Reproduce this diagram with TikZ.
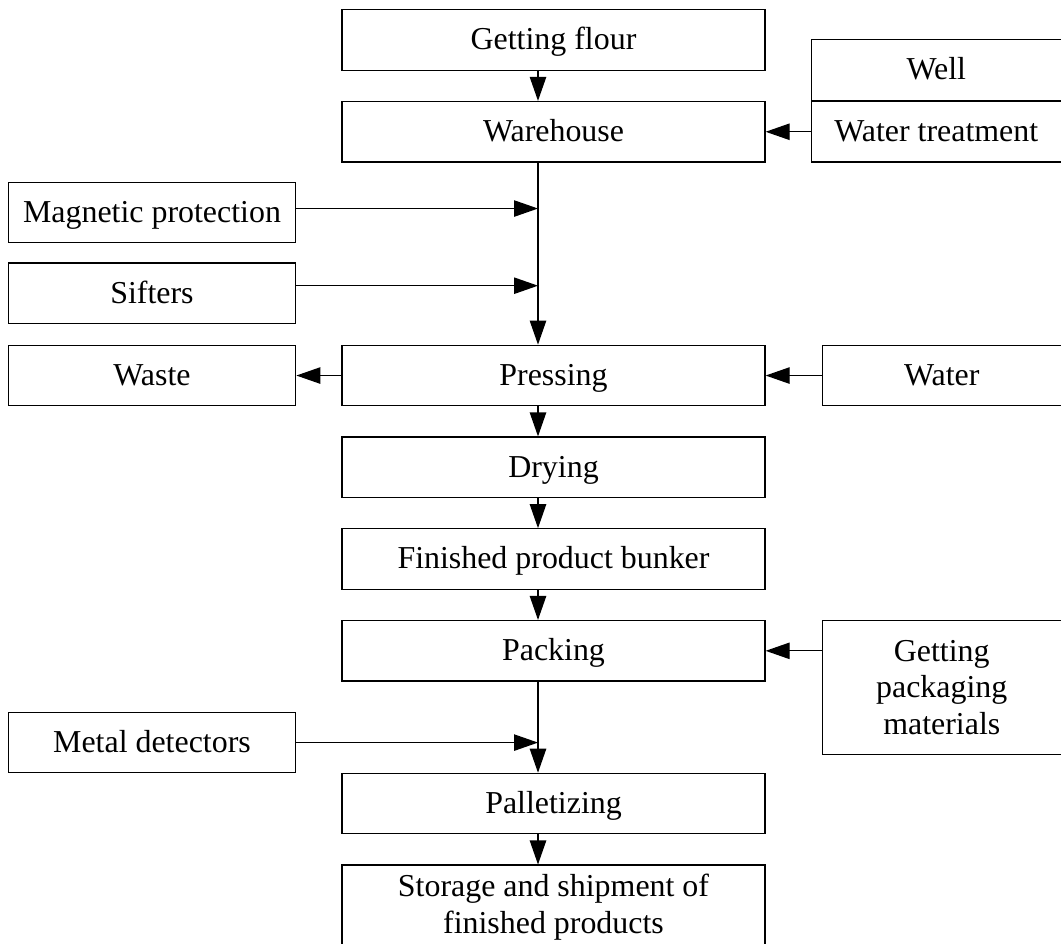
\documentclass[tikz,border=0pt]{standalone}
\usepackage{fontspec}
\setmainfont{Liberation Serif}
\usepackage{tikz}
\usetikzlibrary{arrows.meta, positioning}

\begin{document}
\begin{tikzpicture}[
  node distance=7.5mm,
  line width=0.9pt,
  box/.style={
    rectangle,
    draw,
    align=center,
    font=\fontsize{22.7}{26.3}\selectfont,
    minimum height=1.5125cm,
    inner sep=0pt,
  },
  stage/.style={
    box,
    minimum width=10.575cm,
    text height=16pt,
    text depth=2.14pt,
  },
  side/.style={
    stage,
    minimum width=7.1875cm,
  },
  source/.style={
    stage,
    minimum width=5.975cm,
  },
  arrow/.style={-{Triangle[length=6mm, width=4.1mm]}}
]
\useasboundingbox (0,0) rectangle (26.525,-23.575);

% ===== MAIN LINE =====
\node[stage] (flour) at (13.8375,-1.0) {Getting flour};
\node[stage, below=of flour] (wareh) {Warehouse};
\node[stage, below=45.5mm of wareh] (press) {Pressing};
\node[stage, below=of press] (dry) {Drying};
\node[stage, below=of dry] (bunker) {Finished product bunker};
\node[stage, below=of bunker] (pack) {Packing};
\node[stage, below=22.75mm of pack] (pallet) {Palletizing};
\node[box, below=of pallet, minimum width=10.575cm, minimum height=2.125cm] (store) {
  Storage and shipment of\\
  finished products
};

% line the arrows run down
\coordinate (spine) at ([xshift=-3.875mm]flour.south);

% ===== LEFT SIDE =====
\node[side, below left=4.75mm and 11.25mm of wareh.south west] (magnet) {Magnetic protection};
\node[side, below=4.75mm of magnet] (sift) {Sifters};
\node[side, left=11.25mm of press] (waste) {Waste};
\node[side, below left=7.5mm and 11.25mm of pack.south west] (metal) {Metal detectors};

% ===== RIGHT SIDE =====
\node[source, right=11.25mm of wareh, minimum width=6.25cm] (treat) {Water treatment};
\node[source, above=0mm of treat, minimum width=6.25cm] (well) {Well};
\node[source, right=14mm of press] (water) {Water};
\node[box, below right=0mm and 14mm of pack.north east, minimum width=5.975cm, minimum height=3.35cm] (pkgmat) {
  Getting\\
  packaging\\
  materials
};

% ===== ARROWS =====
\draw[arrow] (flour.south -| spine) -- (wareh.north -| spine);
\draw[arrow] (wareh.south -| spine) -- (press.north -| spine);
\draw[arrow] (press.south -| spine) -- (dry.north -| spine);
\draw[arrow] (dry.south -| spine) -- (bunker.north -| spine);
\draw[arrow] (bunker.south -| spine) -- (pack.north -| spine);
\draw[arrow] (pack.south -| spine) -- (pallet.north -| spine);
\draw[arrow] (pallet.south -| spine) -- (store.north -| spine);

\draw[arrow] ([yshift=1mm]magnet.east) -- ([yshift=1mm]magnet.east -| spine);
\draw[arrow] ([yshift=1.9mm]sift.east) -- ([yshift=1.9mm]sift.east -| spine);
\draw[arrow] (metal.east) -- (metal.east -| spine);
\draw[arrow] (press.west) -- (waste.east);

\draw[arrow] (treat.west) -- (wareh.east);
\draw[arrow] (water.west) -- (press.east);
\draw[arrow] (pack.east -| pkgmat.west) -- (pack.east);

\end{tikzpicture}
\end{document}
